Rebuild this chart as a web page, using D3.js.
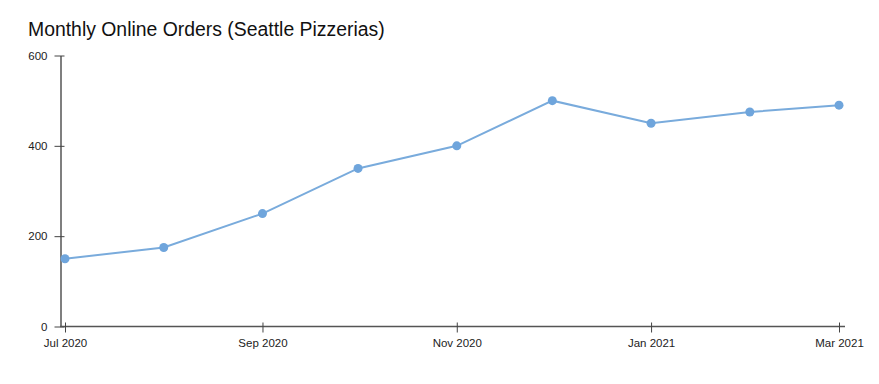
<!DOCTYPE html>
<html>
<head>
<meta charset="utf-8">
<script src="https://cdn.jsdelivr.net/npm/d3@7"></script>
<style>
  body { margin: 0; background: #fff; }
  svg { font-family: "Liberation Sans", Arial, Helvetica, sans-serif; }
</style>
</head>
<body>
<div id="container"></div>
<script>
// data
const months = ["2020-07", "2020-08", "2020-09", "2020-10", "2020-11", "2020-12", "2021-01", "2021-02", "2021-03"];
const orders = [150, 175, 250, 350, 400, 500, 450, 475, 490];
const yTicks = [0, 200, 400, 600];

const width = 879, height = 384;
const parse = d3.timeParse("%Y-%m");
const data = months.map((m, i) => ({ date: parse(m), value: orders[i] }));

const svg = d3.select("#container").append("svg")
  .attr("width", width)
  .attr("height", height);

svg.append("text")
  .attr("x", 28)
  .attr("y", 36)
  .attr("font-size", 19.4)
  .attr("fill", "#111")
  .text("Monthly Online Orders (Seattle Pizzerias)");

const x = d3.scaleTime()
  .domain(d3.extent(data, d => d.date))
  .range([65, 839]);

const y = d3.scaleLinear()
  .domain([0, 600])
  .range([326.5, 55.5]);

// y axis
const yAxis = svg.append("g")
  .attr("transform", "translate(60.5,0)")
  .call(d3.axisLeft(y).tickValues(yTicks).tickSize(6).tickSizeOuter(0).tickPadding(7));
yAxis.select(".domain").attr("stroke", "#555").attr("stroke-width", 1.5);
yAxis.selectAll(".tick line").attr("x2", 4).attr("x1", -6).attr("stroke", "#444");
yAxis.selectAll(".tick text").attr("font-size", 11.5).attr("fill", "#222");

// x axis
const xAxis = svg.append("g")
  .attr("transform", "translate(0,326.5)")
  .call(d3.axisBottom(x).ticks(d3.timeMonth.every(2)).tickFormat(d3.timeFormat("%b %Y")).tickSizeOuter(0).tickPadding(6));
xAxis.select(".domain").remove();
xAxis.insert("line", ":first-child")
  .attr("x1", 60).attr("x2", 845)
  .attr("stroke", "#555").attr("stroke-width", 1.5);
xAxis.selectAll(".tick line").attr("y1", -4).attr("y2", 6).attr("stroke", "#444");
xAxis.selectAll(".tick text").attr("font-size", 11.5).attr("fill", "#222");

const line = d3.line()
  .x(d => x(d.date))
  .y(d => y(d.value));

svg.append("path")
  .datum(data)
  .attr("fill", "none")
  .attr("stroke", "#79abdc")
  .attr("stroke-width", 2)
  .attr("d", line);

svg.append("g")
  .selectAll("circle")
  .data(data)
  .join("circle")
  .attr("cx", d => x(d.date))
  .attr("cy", d => y(d.value))
  .attr("r", 4.5)
  .attr("fill", "#6fa5dc");
</script>
</body>
</html>
